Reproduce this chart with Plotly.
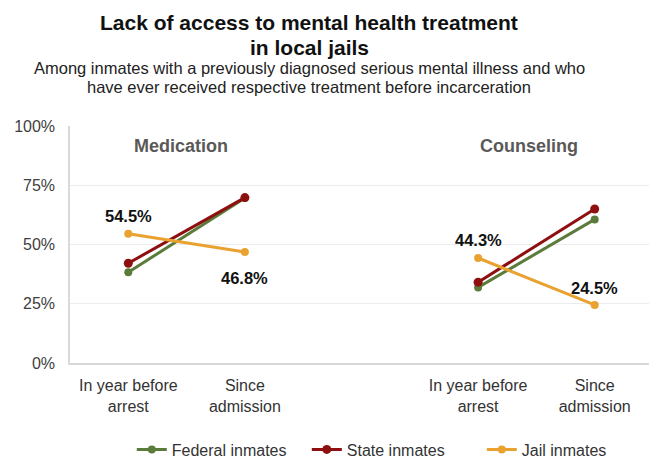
import plotly.graph_objects as go

periods = ["In year before<br>arrest", "Since<br>admission"]
panels = ["Medication", "Counseling"]
series_names = ["Federal inmates", "State inmates", "Jail inmates"]
federal = [38.3, 69.6, 31.9, 60.6]
state = [42.1, 69.8, 34.1, 65.0]
jail = [54.5, 46.8, 44.3, 24.5]
colors = ["#5b7b3a", "#8e0f0f", "#e9a230"]
y_ticks = [0, 25, 50, 75, 100]
y_ticktext = ["0%", "25%", "50%", "75%", "100%"]
title_lines = ["Lack of access to mental health treatment", "in local jails"]
subtitle_lines = ["Among inmates with a previously diagnosed serious mental illness and who",
                  "have ever received respective treatment before incarceration"]

# x positions: panel 0 -> slots 0,1 ; gap slot 2 ; panel 1 -> slots 3,4
xpos = [0, 1, 3, 4]
xs = [0, 1, None, 3, 4]

def with_gap(v):
    return [v[0], v[1], None, v[2], v[3]]

fig = go.Figure()
for name, vals, col in zip(series_names, [federal, state, jail], colors):
    fig.add_trace(go.Scatter(
        x=xs, y=with_gap(vals), name=name, mode="lines+markers",
        line=dict(color=col, width=3),
        marker=dict(color=col, size=9 if name == "State inmates" else 8),
        connectgaps=False, hoverinfo="skip",
    ))

# data labels for jail series
label_shift = [18, -26, 18, 17]
for x, v, s in zip(xpos, jail, label_shift):
    fig.add_annotation(x=x, y=v, text=f"<b>{v:.1f}%</b>", showarrow=False,
                       yshift=s, font=dict(family="Arial", size=16.5, color="#111111"),
                       xref="x", yref="y")

# panel titles
for px, p in zip([0.45, 3.44], panels):
    fig.add_annotation(x=px, y=91.6, text=f"<b>{p}</b>", showarrow=False,
                       xref="x", yref="y",
                       font=dict(family="Arial", size=18, color="#595959"))

fig.update_layout(
    width=649, height=454,
    margin=dict(l=62, r=4, t=118, b=99, autoexpand=False),
    paper_bgcolor="white", plot_bgcolor="white",
    showlegend=True,
    legend=dict(orientation="h", x=0.106, xanchor="left", y=-0.365, yanchor="middle",
                font=dict(family="Arial", size=16, color="#333333"),
                itemwidth=30, traceorder="normal", tracegroupgap=0,
                entrywidth=130, entrywidthmode="pixels"),
    font=dict(family="Arial", color="#404040"),
)
for txt, ys in zip(title_lines, [104, 79]):
    fig.add_annotation(text=f"<b>{txt}</b>", xref="paper", yref="paper",
                       x=0.41, xanchor="center", y=1.0, yshift=ys, yanchor="middle",
                       showarrow=False, font=dict(family="Arial", size=21, color="#111111"))
for txt, ys in zip(subtitle_lines, [58, 39]):
    fig.add_annotation(text=txt, xref="paper", yref="paper",
                       x=0.41, xanchor="center", y=1.0, yshift=ys, yanchor="middle",
                       showarrow=False, font=dict(family="Arial", size=16.5, color="#222222"))

fig.update_xaxes(range=[-0.5, 4.5], tickvals=xpos, ticktext=periods * 2,
                 showgrid=False, zeroline=False, showline=True, linecolor="#d9d9d9",
                 linewidth=1.5, ticks="", ticklabelstandoff=7,
                 tickfont=dict(family="Arial", size=16, color="#333333"))
fig.update_yaxes(range=[0, 100], tickvals=y_ticks, ticktext=y_ticktext,
                 showgrid=True, gridcolor="#ececec", gridwidth=1, zeroline=False,
                 showline=True, linecolor="#d9d9d9", linewidth=1.5, ticks="",
                 ticklabelstandoff=10,
                 tickfont=dict(family="Arial", size=16, color="#404040"))

fig.write_html("out.html")
